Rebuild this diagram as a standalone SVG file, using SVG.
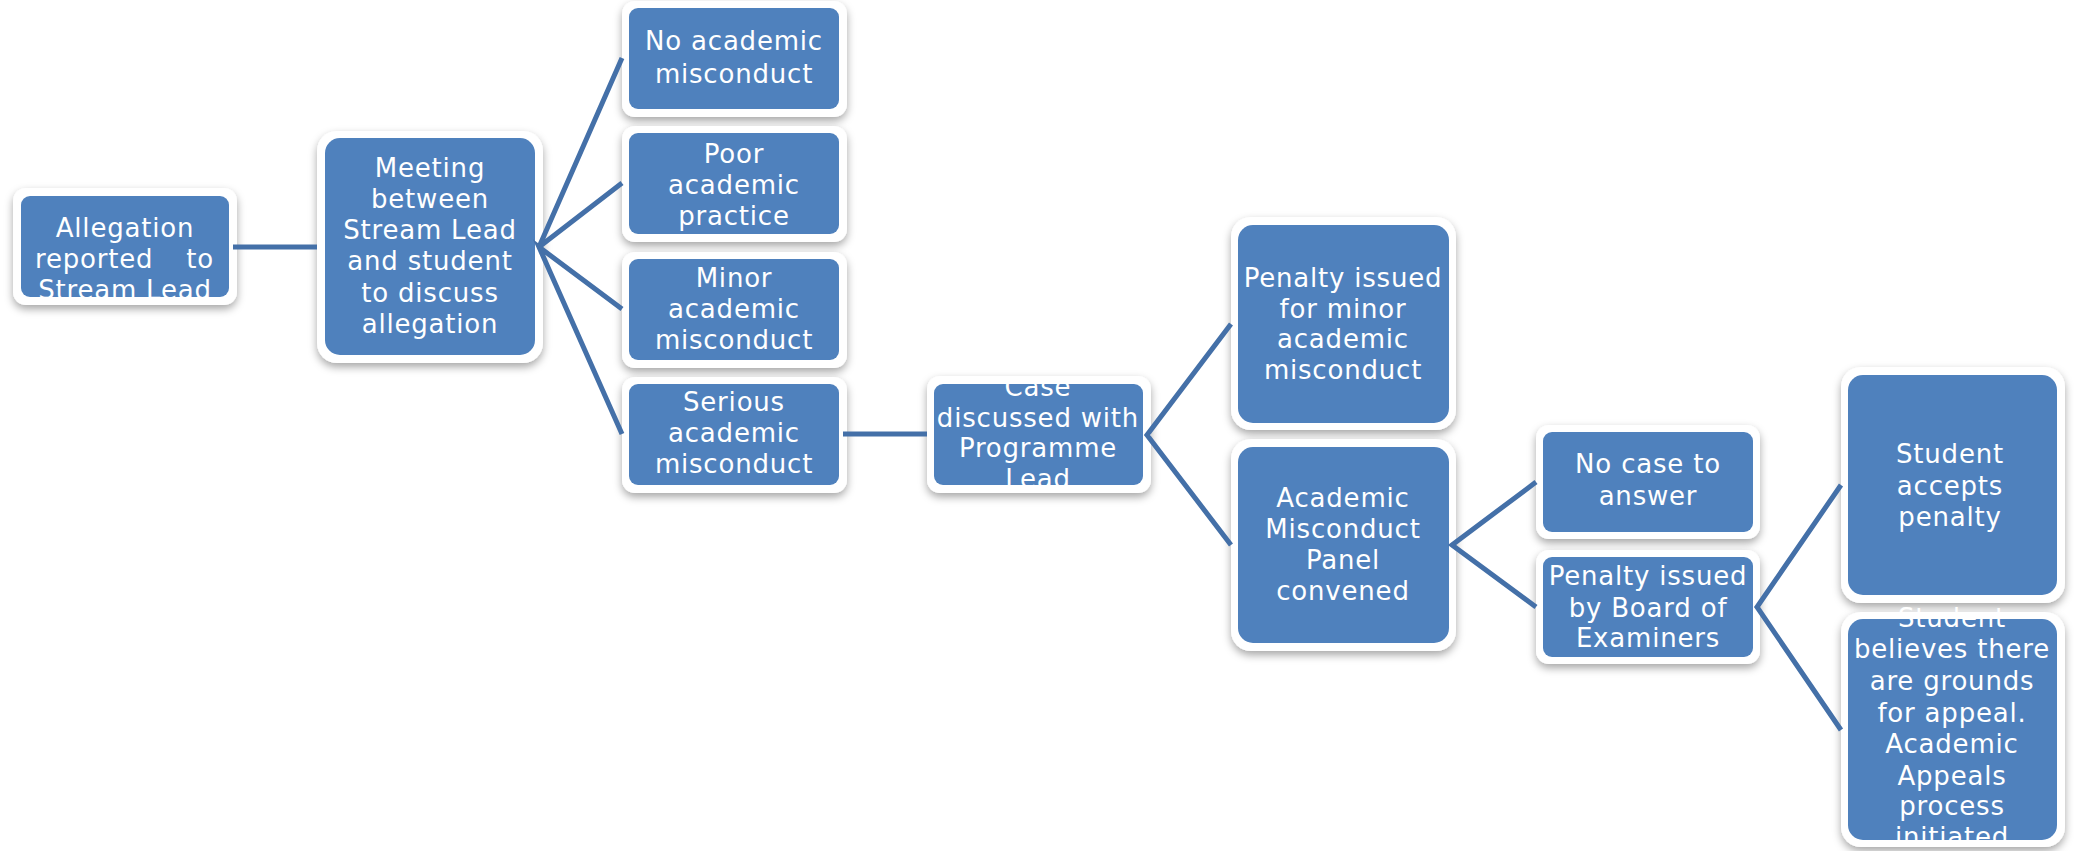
<svg xmlns="http://www.w3.org/2000/svg" width="2074" height="851" viewBox="0 0 2074 851">
  <style>
    .outer { fill: #ffffff; filter: url(#sh); }
    .inner { fill: #4F81BD; }
    .lbl { font-family: "DejaVu Sans", "Liberation Sans", sans-serif; font-size: 26px; fill: #ffffff; text-anchor: middle; letter-spacing: 0.8px; }
    .conn { stroke: #4470A8; stroke-width: 5; fill: none; stroke-linecap: butt; }
  </style>
  <defs>
    <filter id="sh" x="-20%" y="-20%" width="140%" height="150%">
      <feDropShadow dx="0" dy="4" stdDeviation="4" flood-color="#000000" flood-opacity="0.35"/>
    </filter>
  </defs>
  <rect width="2074" height="851" fill="#ffffff"/>

  <g id="n-allegation">
    <rect class="outer" x="13" y="188" width="224" height="117" rx="13"/>
    <rect class="inner" x="21" y="196" width="208" height="101" rx="9"/>
    <text class="lbl"><tspan x="125" y="237">Allegation</tspan><tspan x="35" y="268" text-anchor="start">reported</tspan><tspan x="214" y="268" text-anchor="end">to</tspan><tspan x="125" y="299">Stream Lead</tspan></text>
  </g>

  <g id="n-meeting">
    <rect class="outer" x="317" y="131" width="226" height="232" rx="20"/>
    <rect class="inner" x="325" y="138" width="210" height="217" rx="15"/>
    <text class="lbl"><tspan x="430" y="177">Meeting</tspan><tspan x="430" y="208">between</tspan><tspan x="430" y="239">Stream Lead</tspan><tspan x="430" y="270">and student</tspan><tspan x="430" y="302">to discuss</tspan><tspan x="430" y="333">allegation</tspan></text>
  </g>

  <g id="n-no-misconduct">
    <rect class="outer" x="622" y="1" width="225" height="116" rx="13"/>
    <rect class="inner" x="629" y="8" width="210" height="101" rx="9"/>
    <text class="lbl"><tspan x="734" y="50">No academic</tspan><tspan x="734" y="83">misconduct</tspan></text>
  </g>

  <g id="n-poor-practice">
    <rect class="outer" x="622" y="126" width="225" height="116" rx="13"/>
    <rect class="inner" x="629" y="133" width="210" height="101" rx="9"/>
    <text class="lbl"><tspan x="734" y="163">Poor</tspan><tspan x="734" y="194">academic</tspan><tspan x="734" y="225">practice</tspan></text>
  </g>

  <g id="n-minor">
    <rect class="outer" x="622" y="252" width="225" height="116" rx="13"/>
    <rect class="inner" x="629" y="259" width="210" height="101" rx="9"/>
    <text class="lbl"><tspan x="734" y="287">Minor</tspan><tspan x="734" y="318">academic</tspan><tspan x="734" y="349">misconduct</tspan></text>
  </g>

  <g id="n-serious">
    <rect class="outer" x="622" y="377" width="225" height="116" rx="13"/>
    <rect class="inner" x="629" y="384" width="210" height="101" rx="9"/>
    <text class="lbl"><tspan x="734" y="411">Serious</tspan><tspan x="734" y="442">academic</tspan><tspan x="734" y="473">misconduct</tspan></text>
  </g>

  <g id="n-case">
    <rect class="outer" x="927" y="376" width="224" height="117" rx="13"/>
    <rect class="inner" x="934" y="384" width="209" height="101" rx="9"/>
    <text class="lbl"><tspan x="1038" y="396">Case</tspan><tspan x="1038" y="427">discussed with</tspan><tspan x="1038" y="457">Programme</tspan><tspan x="1038" y="488">Lead</tspan></text>
  </g>

  <g id="n-penalty-minor">
    <rect class="outer" x="1231" y="217" width="225" height="213" rx="20"/>
    <rect class="inner" x="1238" y="225" width="211" height="198" rx="15"/>
    <text class="lbl"><tspan x="1343" y="287">Penalty issued</tspan><tspan x="1343" y="318">for minor</tspan><tspan x="1343" y="348">academic</tspan><tspan x="1343" y="379">misconduct</tspan></text>
  </g>

  <g id="n-panel">
    <rect class="outer" x="1231" y="439" width="225" height="212" rx="20"/>
    <rect class="inner" x="1238" y="447" width="211" height="196" rx="15"/>
    <text class="lbl"><tspan x="1343" y="507">Academic</tspan><tspan x="1343" y="538">Misconduct</tspan><tspan x="1343" y="569">Panel</tspan><tspan x="1343" y="600">convened</tspan></text>
  </g>

  <g id="n-no-case">
    <rect class="outer" x="1536" y="425" width="224" height="114" rx="13"/>
    <rect class="inner" x="1543" y="432" width="210" height="100" rx="9"/>
    <text class="lbl"><tspan x="1648" y="473">No case to</tspan><tspan x="1648" y="505">answer</tspan></text>
  </g>

  <g id="n-penalty-board">
    <rect class="outer" x="1536" y="550" width="224" height="114" rx="13"/>
    <rect class="inner" x="1543" y="557" width="210" height="100" rx="9"/>
    <text class="lbl"><tspan x="1648" y="585">Penalty issued</tspan><tspan x="1648" y="617">by Board of</tspan><tspan x="1648" y="647">Examiners</tspan></text>
  </g>

  <g id="n-accepts">
    <rect class="outer" x="1841" y="367" width="224" height="236" rx="20"/>
    <rect class="inner" x="1848" y="375" width="209" height="220" rx="15"/>
    <text class="lbl"><tspan x="1950" y="463">Student</tspan><tspan x="1950" y="495">accepts</tspan><tspan x="1950" y="526">penalty</tspan></text>
  </g>

  <g id="n-appeal">
    <rect class="outer" x="1841" y="612" width="224" height="235" rx="20"/>
    <rect class="inner" x="1848" y="619" width="209" height="221" rx="15"/>
    <text class="lbl"><tspan x="1952" y="627">Student</tspan><tspan x="1952" y="658">believes there</tspan><tspan x="1952" y="690">are grounds</tspan><tspan x="1952" y="722">for appeal.</tspan><tspan x="1952" y="753">Academic</tspan><tspan x="1952" y="785">Appeals</tspan><tspan x="1952" y="815">process</tspan><tspan x="1952" y="846">initiated</tspan></text>
  </g>

  <g id="connectors">
    <line class="conn" x1="233" y1="247" x2="317" y2="247"/>
    <polyline class="conn" points="622,58 539,247 622,183"/>
    <polyline class="conn" points="622,309 539,247 622,434"/>
    <line class="conn" x1="843" y1="434" x2="927" y2="434"/>
    <polyline class="conn" points="1231,324 1147,435 1231,545"/>
    <polyline class="conn" points="1536,482 1452,545 1536,607"/>
    <polyline class="conn" points="1841,485 1757,607 1841,730"/>
  </g>
</svg>
